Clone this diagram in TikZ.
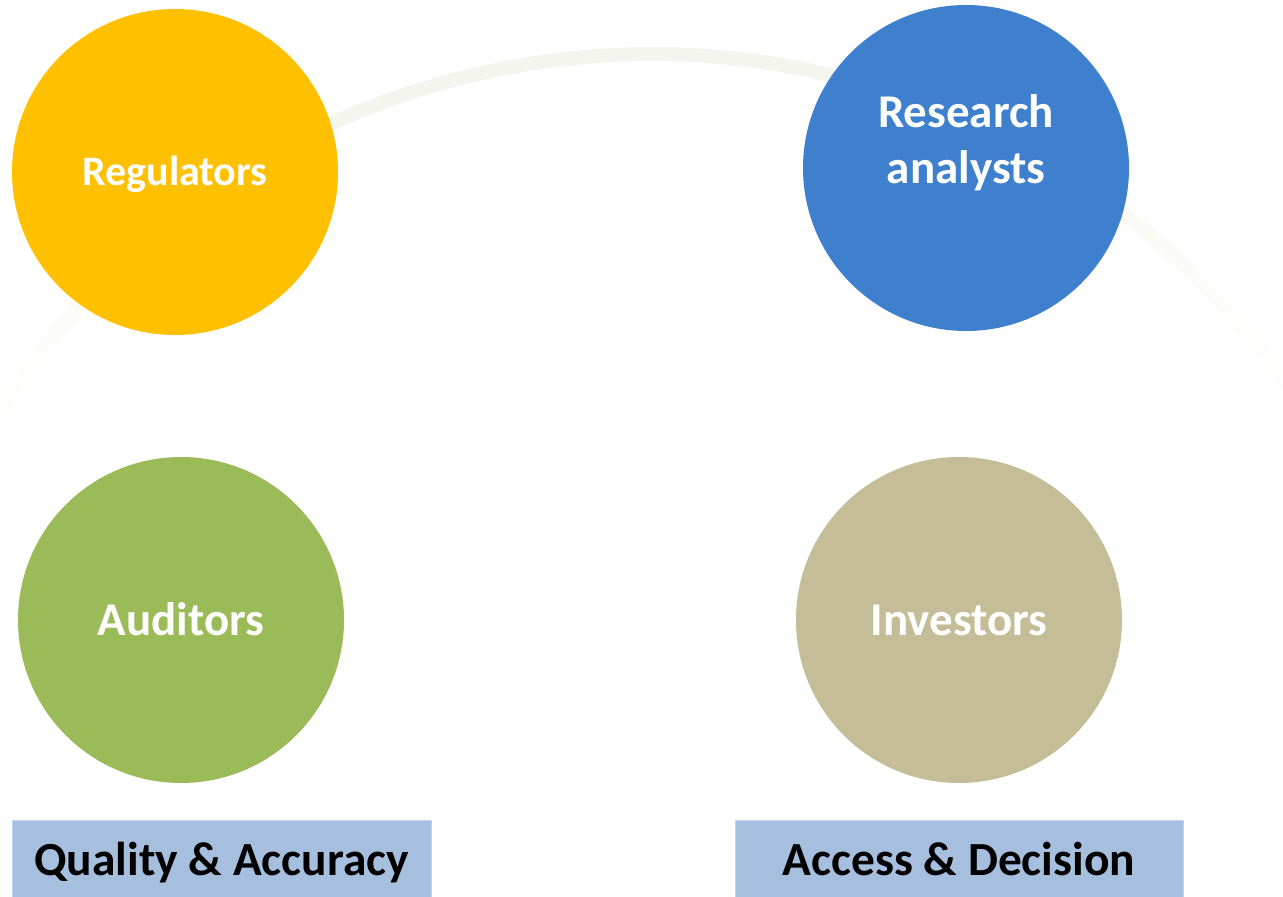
\documentclass[tikz,border=0pt]{standalone}
\usepackage{fontspec}
\setmainfont{Carlito}
\definecolor{regcol}{HTML}{FFC000}
\definecolor{rescol}{HTML}{3E7FCE}
\definecolor{audcol}{HTML}{9BBB59}
\definecolor{invcol}{HTML}{C4BD97}
\definecolor{boxcol}{HTML}{A7BFDF}
\definecolor{boxedge}{HTML}{C3D5EC}
\definecolor{ringcol}{HTML}{F5F5EF}
\begin{document}
\begin{tikzpicture}[x=1pt,y=-1pt,
  party/.style={circle, minimum size=326pt, inner sep=0pt, draw=none},
  partytext/.style={text=white, inner sep=0pt, align=center,
    font=\bfseries\fontsize{47}{56}\selectfont},
  tag/.style={rectangle, fill=boxcol, draw=boxedge, line width=1.2pt,
    inner sep=0pt, anchor=north west},
  tagtext/.style={text=black, inner sep=0pt, text height=32pt, text depth=6pt,
    font=\bfseries\fontsize{47.5}{56}\selectfont}]
\useasboundingbox (0,0) rectangle (1283,897);
\clip (0,0) rectangle (1283,897);

% faint ring behind the circles, fading towards both ends
\foreach \a in {28,30,...,152} {
  \pgfmathsetmacro\b{\a+2.3}
  \pgfmathsetmacro\f{max(0,abs(\a+1-92)-24)}
  \pgfmathsetmacro\p{100-min(92,\f*2.9)}
  \draw[color=ringcol!\p!white, line width=14pt]
    ({652+776*cos(\a)},{830-776*sin(\a)}) -- ({652+776*cos(\b)},{830-776*sin(\b)});
}

% stakeholder circles
\node[party, fill=regcol] (reg) at (175,172) {};
\node[party, fill=rescol] (res) at (966,168) {};
\node[party, fill=audcol] (aud) at (181,620) {};
\node[party, fill=invcol] (inv) at (959,620) {};

\node[partytext, font=\bfseries\fontsize{42}{50}\selectfont, text height=27pt, text depth=0pt]
  (regtext) at (reg.center) {Regulators};
\node[partytext] (restext) at (966,143) {Research\\analysts};
\node[partytext, text height=30pt, text depth=0pt] (audtext) at (aud.center) {Auditors};
\node[partytext, text height=30pt, text depth=0pt] (invtext) at (inv.center) {Investors};

% bottom captions
\node[tag, minimum width=419pt, minimum height=90pt] (qa) at (12,820) {};
\node[tagtext] (qatext) at (221.5,862) {Quality \& Accuracy};
\node[tag, minimum width=448pt, minimum height=90pt] (ad) at (735,820) {};
\node[tagtext] (adtext) at (959,862) {Access \& Decision};
\end{tikzpicture}
\end{document}
